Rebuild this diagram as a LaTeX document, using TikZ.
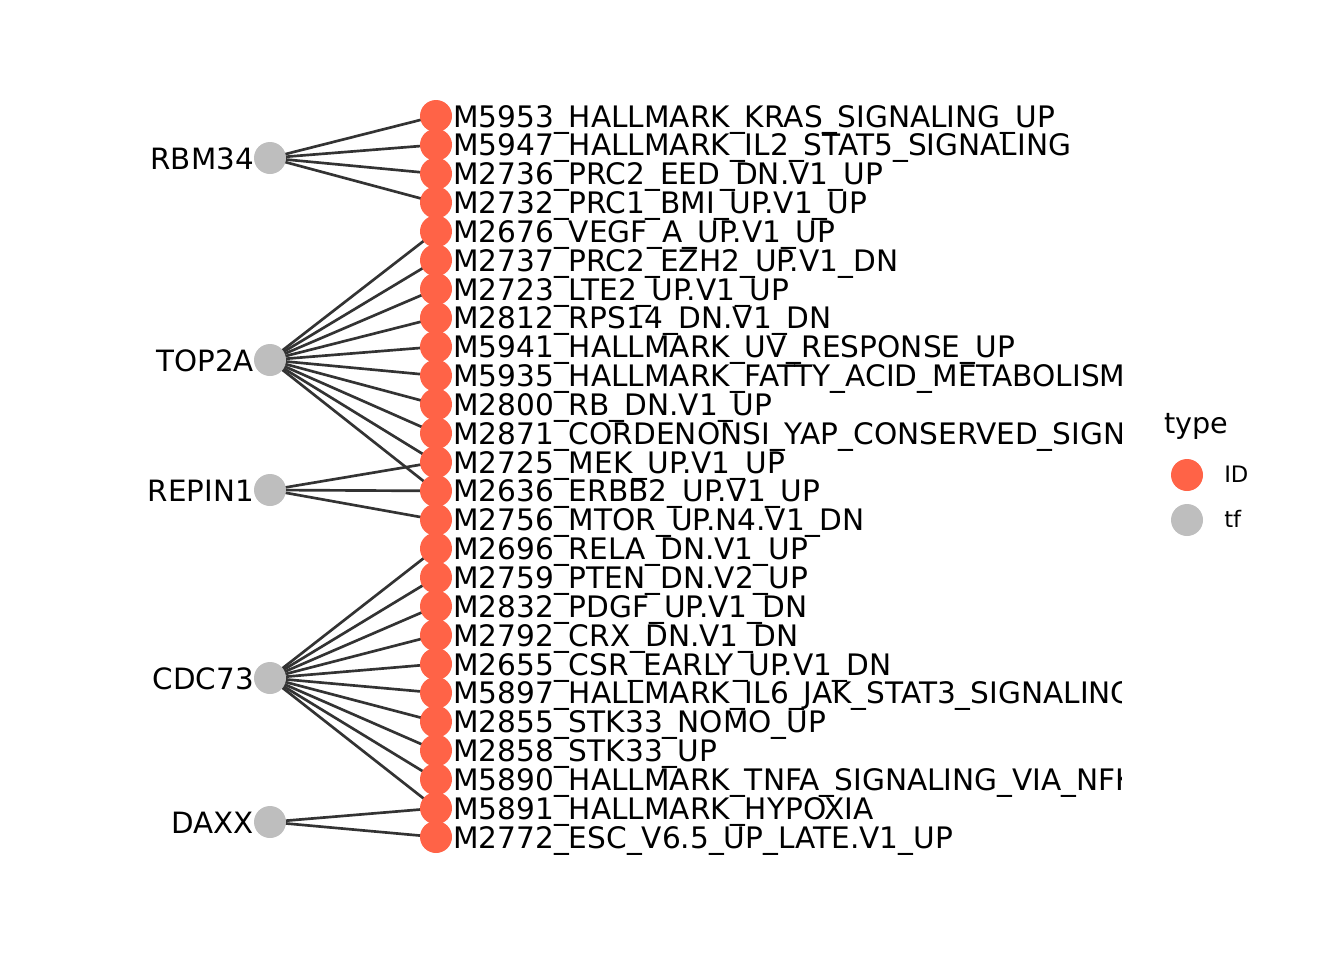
\documentclass[tikz,border=0pt]{standalone}
\usepackage{fontspec}
\setmainfont{DejaVu Sans}
\usetikzlibrary{positioning, backgrounds}
\definecolor{idcol}{HTML}{FF6347}
\definecolor{tfcol}{HTML}{BEBEBE}
\definecolor{edgecol}{HTML}{333333}
\tikzset{
  idnode/.style={circle, fill=idcol, minimum size=24pt, inner sep=0pt},
  tfnode/.style={circle, fill=tfcol, minimum size=24pt, inner sep=0pt},
  idlabel/.style={anchor=base west, inner sep=0pt, font=\fontsize{22.2}{22.2}\selectfont},
  tflabel/.style={anchor=base east, inner sep=0pt, font=\fontsize{22}{22}\selectfont},
  link/.style={draw=edgecol, line width=2pt}
}

\begin{document}
\begin{tikzpicture}[x=0.75pt, y=-0.75pt]
    \useasboundingbox (0,0) rectangle (1344,960);

    % tf nodes
    \node[tfnode] (rbm) at (270, 158) {};
    \node[tfnode] (top) at (270, 360) {};
    \node[tfnode] (repin) at (270, 490) {};
    \node[tfnode] (cdc) at (270, 678) {};
    \node[tfnode] (daxx) at (270, 822) {};
    \node[tflabel] (lrbm) at (254, 169) {RBM34};
    \node[tflabel] (ltop) at (254, 371) {TOP2A};
    \node[tflabel] (lrepin) at (254, 501) {REPIN1};
    \node[tflabel] (lcdc) at (254, 689) {CDC73};
    \node[tflabel] (ldaxx) at (254, 833) {DAXX};

    % ID nodes
    \node[idnode] (a1) at (436, 116.0) {};
    \node[idnode] (a2) at (436, 144.8) {};
    \node[idnode] (a3) at (436, 173.7) {};
    \node[idnode] (a4) at (436, 202.5) {};
    \node[idnode] (a5) at (436, 231.4) {};
    \node[idnode] (a6) at (436, 260.2) {};
    \node[idnode] (a7) at (436, 289.0) {};
    \node[idnode] (a8) at (436, 317.9) {};
    \node[idnode] (a9) at (436, 346.7) {};
    \node[idnode] (a10) at (436, 375.6) {};
    \node[idnode] (a11) at (436, 404.4) {};
    \node[idnode] (a12) at (436, 433.2) {};
    \node[idnode] (a13) at (436, 462.1) {};
    \node[idnode] (a14) at (436, 490.9) {};
    \node[idnode] (a15) at (436, 519.8) {};
    \node[idnode] (a16) at (436, 548.6) {};
    \node[idnode] (a17) at (436, 577.4) {};
    \node[idnode] (a18) at (436, 606.3) {};
    \node[idnode] (a19) at (436, 635.1) {};
    \node[idnode] (a20) at (436, 664.0) {};
    \node[idnode] (a21) at (436, 692.8) {};
    \node[idnode] (a22) at (436, 721.6) {};
    \node[idnode] (a23) at (436, 750.5) {};
    \node[idnode] (a24) at (436, 779.3) {};
    \node[idnode] (a25) at (436, 808.2) {};
    \node[idnode] (a26) at (436, 837.0) {};

    % ID labels, cut at the panel edge
    \begin{scope}
    \clip (440,0) rectangle (1121,960);
    \node[idlabel] (b1) at (453, 127.0) {M5953\_HALLMARK\_KRAS\_SIGNALING\_UP};
    \node[idlabel] (b2) at (453, 155.8) {M5947\_HALLMARK\_IL2\_STAT5\_SIGNALING};
    \node[idlabel] (b3) at (453, 184.7) {M2736\_PRC2\_EED\_DN.V1\_UP};
    \node[idlabel] (b4) at (453, 213.5) {M2732\_PRC1\_BMI\_UP.V1\_UP};
    \node[idlabel] (b5) at (453, 242.4) {M2676\_VEGF\_A\_UP.V1\_UP};
    \node[idlabel] (b6) at (453, 271.2) {M2737\_PRC2\_EZH2\_UP.V1\_DN};
    \node[idlabel] (b7) at (453, 300.0) {M2723\_LTE2\_UP.V1\_UP};
    \node[idlabel] (b8) at (453, 328.9) {M2812\_RPS14\_DN.V1\_DN};
    \node[idlabel] (b9) at (453, 357.7) {M5941\_HALLMARK\_UV\_RESPONSE\_UP};
    \node[idlabel] (b10) at (453, 386.6) {M5935\_HALLMARK\_FATTY\_ACID\_METABOLISM};
    \node[idlabel] (b11) at (453, 415.4) {M2800\_RB\_DN.V1\_UP};
    \node[idlabel] (b12) at (453, 444.2) {M2871\_CORDENONSI\_YAP\_CONSERVED\_SIGNATURE};
    \node[idlabel] (b13) at (453, 473.1) {M2725\_MEK\_UP.V1\_UP};
    \node[idlabel] (b14) at (453, 501.9) {M2636\_ERBB2\_UP.V1\_UP};
    \node[idlabel] (b15) at (453, 530.8) {M2756\_MTOR\_UP.N4.V1\_DN};
    \node[idlabel] (b16) at (453, 559.6) {M2696\_RELA\_DN.V1\_UP};
    \node[idlabel] (b17) at (453, 588.4) {M2759\_PTEN\_DN.V2\_UP};
    \node[idlabel] (b18) at (453, 617.3) {M2832\_PDGF\_UP.V1\_DN};
    \node[idlabel] (b19) at (453, 646.1) {M2792\_CRX\_DN.V1\_DN};
    \node[idlabel] (b20) at (453, 675.0) {M2655\_CSR\_EARLY\_UP.V1\_DN};
    \node[idlabel] (b21) at (453, 703.8) {M5897\_HALLMARK\_IL6\_JAK\_STAT3\_SIGNALING};
    \node[idlabel] (b22) at (453, 732.6) {M2855\_STK33\_NOMO\_UP};
    \node[idlabel] (b23) at (453, 761.5) {M2858\_STK33\_UP};
    \node[idlabel] (b24) at (453, 790.3) {M5890\_HALLMARK\_TNFA\_SIGNALING\_VIA\_NFKB};
    \node[idlabel] (b25) at (453, 819.2) {M5891\_HALLMARK\_HYPOXIA};
    \node[idlabel] (b26) at (453, 848.0) {M2772\_ESC\_V6.5\_UP\_LATE.V1\_UP};
    \end{scope}

    % Connections
    \begin{scope}[on background layer]
    \draw[link] (rbm.center) -- (a1.center);
    \draw[link] (rbm.center) -- (a2.center);
    \draw[link] (rbm.center) -- (a3.center);
    \draw[link] (rbm.center) -- (a4.center);
    \draw[link] (top.center) -- (a5.center);
    \draw[link] (top.center) -- (a6.center);
    \draw[link] (top.center) -- (a7.center);
    \draw[link] (top.center) -- (a8.center);
    \draw[link] (top.center) -- (a9.center);
    \draw[link] (top.center) -- (a10.center);
    \draw[link] (top.center) -- (a11.center);
    \draw[link] (top.center) -- (a12.center);
    \draw[link] (top.center) -- (a13.center);
    \draw[link] (top.center) -- (a14.center);
    \draw[link] (repin.center) -- (a13.center);
    \draw[link] (repin.center) -- (a14.center);
    \draw[link] (repin.center) -- (a15.center);
    \draw[link] (cdc.center) -- (a16.center);
    \draw[link] (cdc.center) -- (a17.center);
    \draw[link] (cdc.center) -- (a18.center);
    \draw[link] (cdc.center) -- (a19.center);
    \draw[link] (cdc.center) -- (a20.center);
    \draw[link] (cdc.center) -- (a21.center);
    \draw[link] (cdc.center) -- (a22.center);
    \draw[link] (cdc.center) -- (a23.center);
    \draw[link] (cdc.center) -- (a24.center);
    \draw[link] (cdc.center) -- (a25.center);
    \draw[link] (daxx.center) -- (a25.center);
    \draw[link] (daxx.center) -- (a26.center);
    \end{scope}

    % legend
    \node[anchor=base west, inner sep=0pt, font=\fontsize{21.5}{21.5}\selectfont] (ltitle) at (1164, 433) {type};
    \node[idnode] (kid) at (1187, 475) {};
    \node[tfnode] (ktf) at (1187, 520) {};
    \node[anchor=base west, inner sep=0pt, font=\fontsize{17}{17}\selectfont] (lid) at (1224, 482) {ID};
    \node[anchor=base west, inner sep=0pt, font=\fontsize{17}{17}\selectfont] (ltf) at (1224, 527) {tf};
\end{tikzpicture}
\end{document}
